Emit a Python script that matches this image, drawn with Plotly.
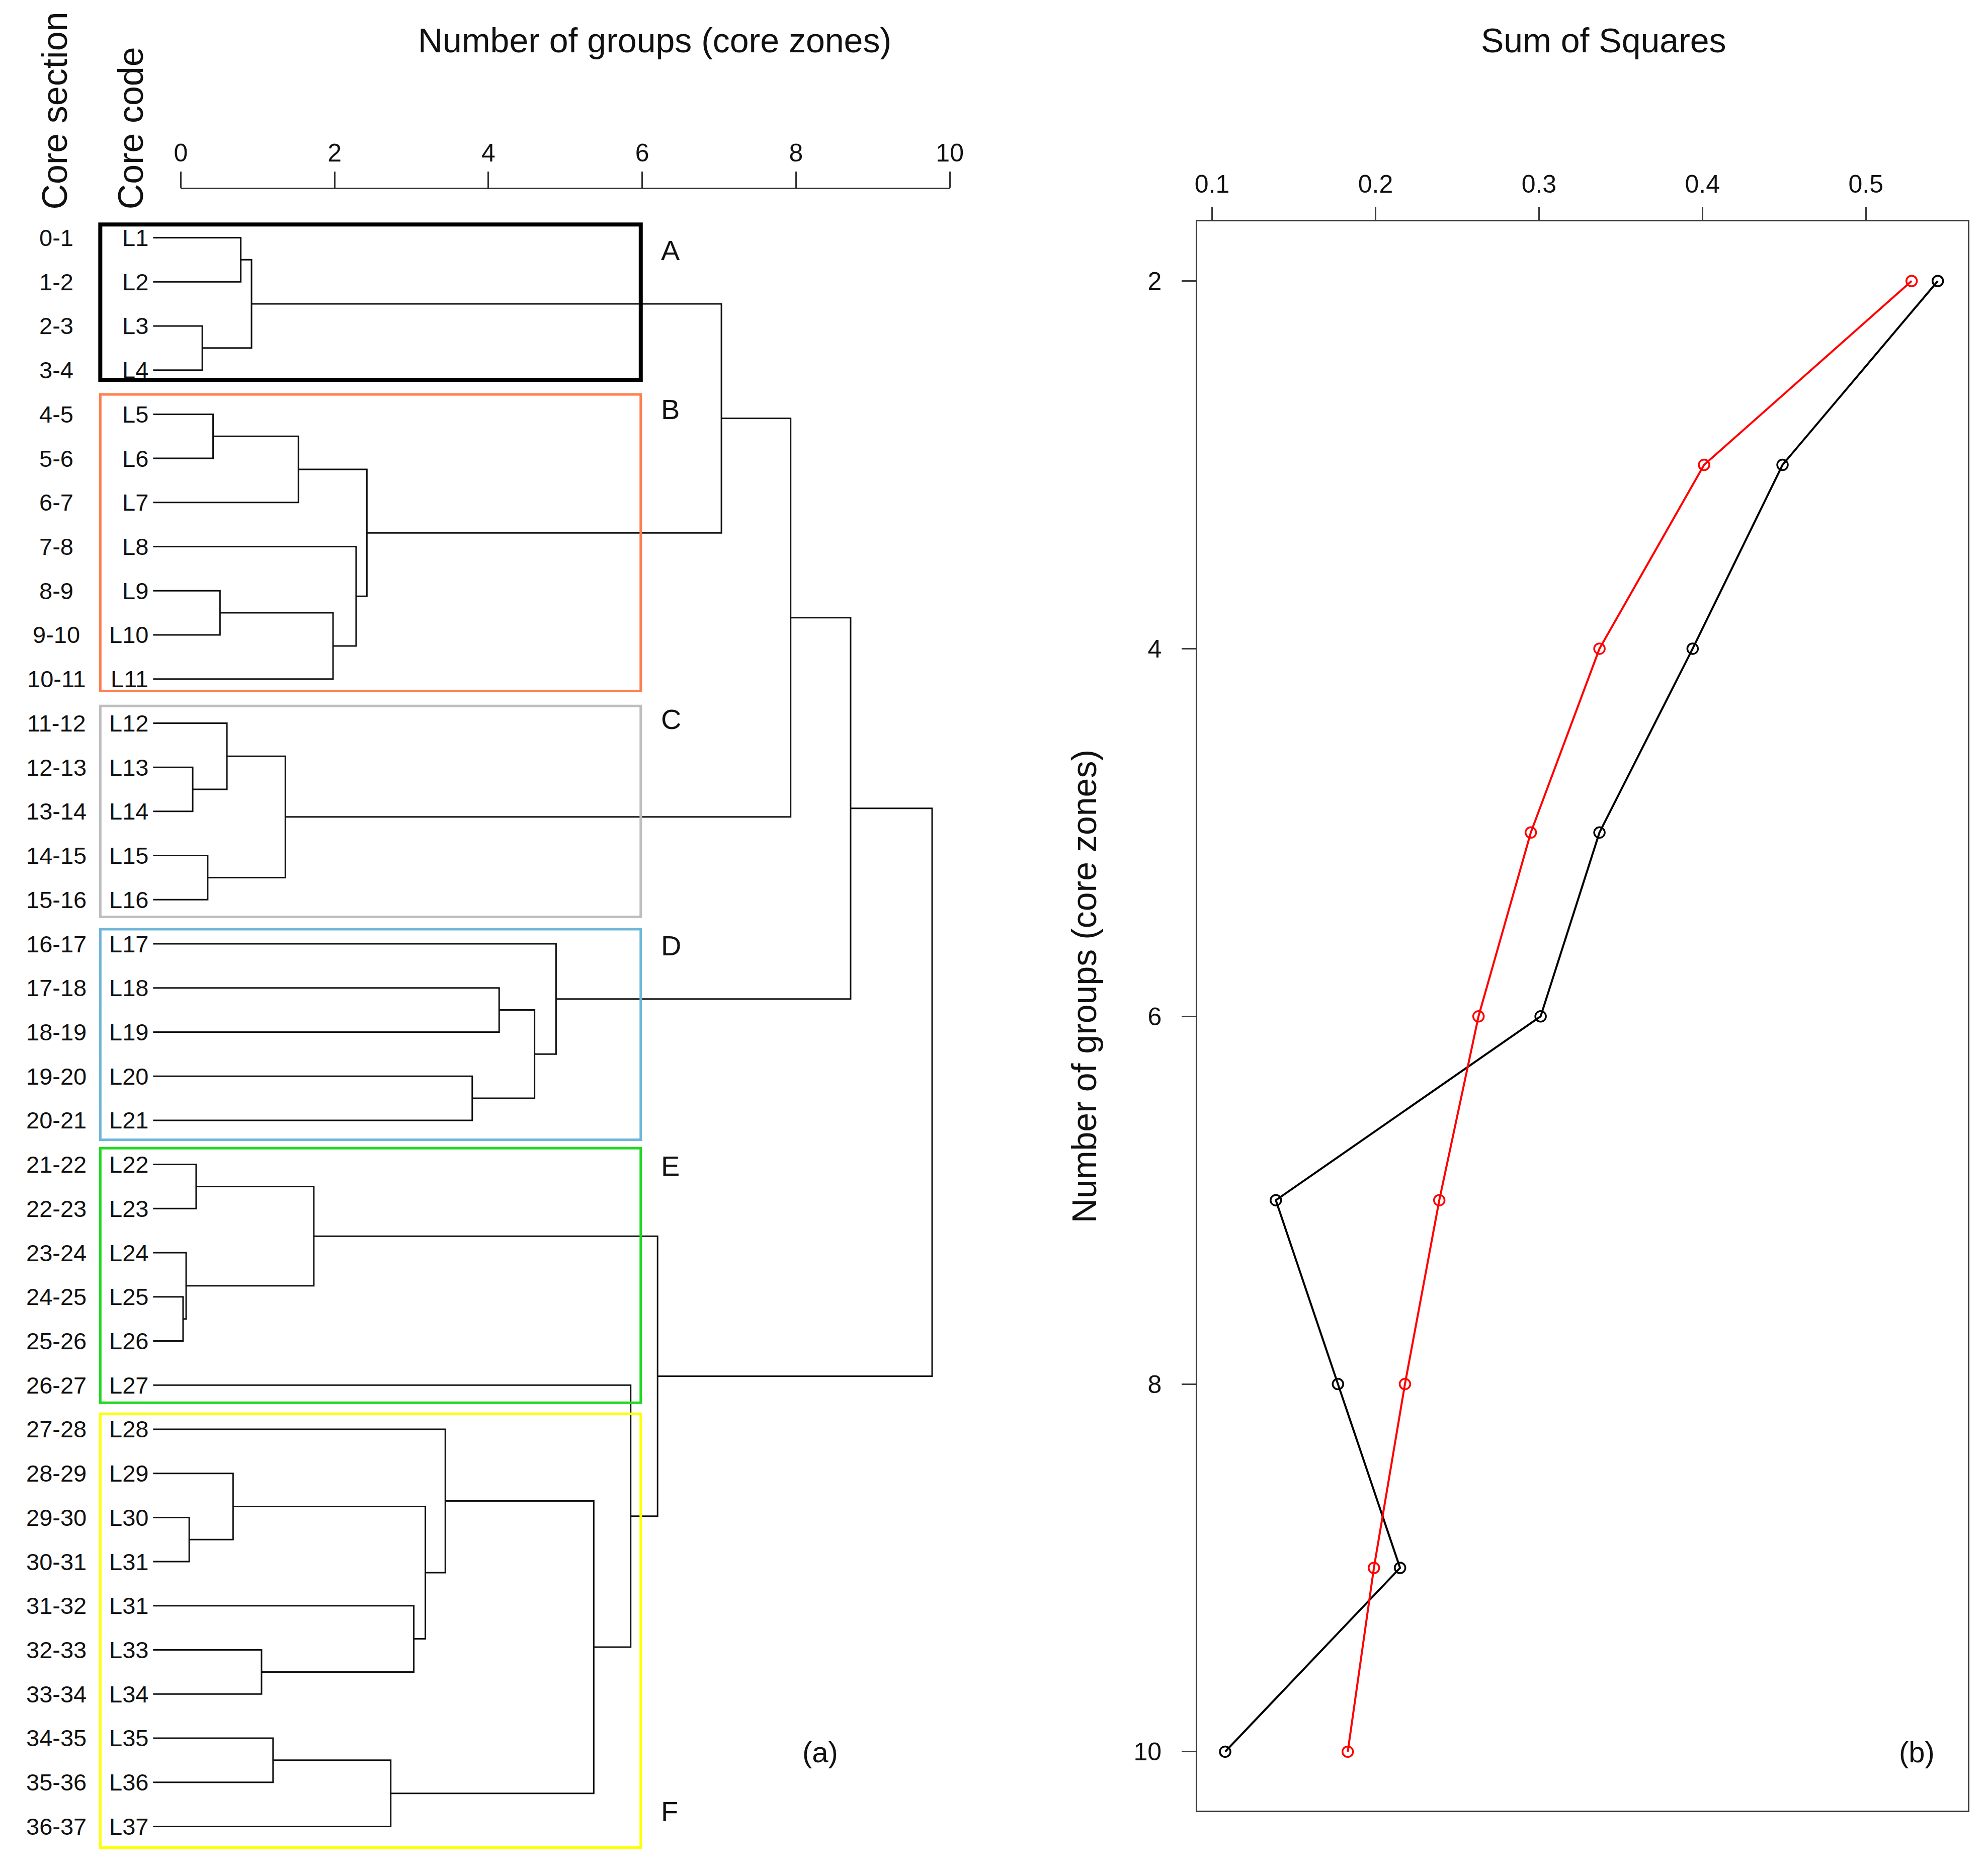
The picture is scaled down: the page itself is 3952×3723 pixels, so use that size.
import plotly.graph_objects as go

# ---- data -------------------------------------------------------------
core_sections = ["0-1", "1-2", "2-3", "3-4", "4-5", "5-6", "6-7", "7-8", "8-9",
                 "9-10", "10-11", "11-12", "12-13", "13-14", "14-15", "15-16",
                 "16-17", "17-18", "18-19", "19-20", "20-21", "21-22", "22-23",
                 "23-24", "24-25", "25-26", "26-27", "27-28", "28-29", "29-30",
                 "30-31", "31-32", "32-33", "33-34", "34-35", "35-36", "36-37"]
core_codes = ["L1", "L2", "L3", "L4", "L5", "L6", "L7", "L8", "L9", "L10", "L11",
              "L12", "L13", "L14", "L15", "L16", "L17", "L18", "L19", "L20",
              "L21", "L22", "L23", "L24", "L25", "L26", "L27", "L28", "L29",
              "L30", "L31", "L31", "L33", "L34", "L35", "L36", "L37"]

# hclust style merge table: negative = leaf number, positive = earlier step
merge_left = [-25, -24, -30, -13, -22, -3, -15, -5, -9, -12, -29, -1, 12, -33,
              -35, 10, 8, 5, 9, -8, 17, 15, -32, 11, -28, -20, -18, 27, -17,
              25, -27, 18, 13, 33, 34, 35]
merge_right = [-26, 1, -31, -14, -23, -4, -16, -6, -10, 4, 3, -2, 6, -34, -36,
               7, -7, 2, -11, 19, 20, -37, 14, 23, 24, -21, -19, 26, 28, 22,
               30, 31, 21, 16, 29, 32]
merge_height = [0.03, 0.07, 0.11, 0.155, 0.20, 0.28, 0.35, 0.42, 0.51, 0.60,
                0.68, 0.78, 0.92, 1.05, 1.20, 1.36, 1.53, 1.73, 1.98, 2.28,
                2.42, 2.73, 3.03, 3.18, 3.44, 3.79, 4.14, 4.60, 4.88, 5.37,
                5.85, 6.20, 7.03, 7.93, 8.71, 9.77]

zone_names = ["A", "B", "C", "D", "E", "F"]
zone_first = [1, 5, 12, 17, 22, 28]
zone_last = [4, 11, 16, 21, 27, 37]
zone_colors = ["#000000", "#FF7F50", "#BEBEBE", "#70B6D6", "#22D822", "#FFFF00"]

dendro_ticks = [0, 2, 4, 6, 8, 10]

n_groups = [2, 3, 4, 5, 6, 7, 8, 9, 10]
ss_black = [0.544, 0.449, 0.394, 0.337, 0.301, 0.139, 0.177, 0.215, 0.108]
ss_red = [0.528, 0.401, 0.337, 0.295, 0.263, 0.239, 0.218, 0.199, 0.183]
ss_ticks = [0.1, 0.2, 0.3, 0.4, 0.5]

# ---- geometry ---------------------------------------------------------
W, H = 3952, 3723
X0_PX, UNIT_PX = 356.25, 153.1      # dendrogram height 0 and px per unit
ROW1_PX, ROW_PX = 472.0, 87.72      # first leaf row and row spacing
LEAF_X = -0.36
# page offset / squeeze seen in the rendered output
DX, SX, DY = 18.4, 0.9908, 7.5
# box padding (rows) above first / below last leaf, and letter offsets
PAD_TOP = [0.30, 0.45, 0.39, 0.33, 0.37, 0.35]
PAD_BOTTOM = [0.22, 0.27, 0.39, 0.44, 0.40, 0.48]
LETTER_SHIFT = [0.29, -0.11, -0.09, 0.04, 0.03, -0.34]   # from first (last for F)
FONT = "Liberation Sans, Arial, sans-serif"
INK = "#111111"


def px_to_h(px):
    return (px - X0_PX) / UNIT_PX


def px_to_row(py):
    return 1 + (py - ROW1_PX) / ROW_PX


def paper_x(px):
    return (px - DX) / (SX * W)


def paper_y(py):
    return 1 - (py - DY) / H


# dendrogram segments
pos = []
seg_x, seg_y = [], []


def child(c):
    if c < 0:
        return LEAF_X, float(-c)
    return pos[c - 1]


for l, r, h in zip(merge_left, merge_right, merge_height):
    (hl, yl), (hr, yr) = child(l), child(r)
    seg_x += [hl, h, h, hr, None]
    seg_y += [yl, yl, yr, yr, None]
    pos.append((h, (yl + yr) / 2))

fig = go.Figure()

fig.add_trace(go.Scatter(
    x=seg_x, y=seg_y, mode="lines",
    line=dict(color=INK, width=3),
    hoverinfo="skip", showlegend=False, xaxis="x", yaxis="y"))

# invisible trace carrying the dendrogram height axis
fig.add_trace(go.Scatter(
    x=dendro_ticks, y=[None] * len(dendro_ticks), mode="markers",
    hoverinfo="skip", showlegend=False, xaxis="x3", yaxis="y"))

# sum of squares panel
fig.add_trace(go.Scatter(
    x=ss_black, y=n_groups, mode="lines+markers",
    line=dict(color="black", width=4),
    marker=dict(symbol="circle-open", size=21, color="black",
                line=dict(width=3.5)),
    showlegend=False, xaxis="x2", yaxis="y2"))
fig.add_trace(go.Scatter(
    x=ss_red, y=n_groups, mode="lines+markers",
    line=dict(color="#FF0000", width=4),
    marker=dict(symbol="circle-open", size=21, color="#FF0000",
                line=dict(width=3.5)),
    showlegend=False, xaxis="x2", yaxis="y2"))

# zone boxes
box_x0, box_x1 = px_to_h(196), px_to_h(1272)
for k, (name, first, last, col) in enumerate(
        zip(zone_names, zone_first, zone_last, zone_colors)):
    fig.add_shape(type="rect", xref="x", yref="y",
                  x0=box_x0, x1=box_x1,
                  y0=first - PAD_TOP[k], y1=last + PAD_BOTTOM[k],
                  line=dict(color=col, width=8 if col == "#000000" else 5))
    ly = (last if name == "F" else first) + LETTER_SHIFT[k]
    fig.add_annotation(x=px_to_h(1310), y=ly, xref="x", yref="y",
                       text=name, showarrow=False, xanchor="left",
                       yanchor="middle",
                       font=dict(family=FONT, size=56, color=INK))

# leaf labels
for i, (sec, code) in enumerate(zip(core_sections, core_codes), start=1):
    fig.add_annotation(x=px_to_h(109), y=i, xref="x", yref="y", text=sec,
                       showarrow=False, xanchor="center", yanchor="middle",
                       font=dict(family=FONT, size=47, color=INK))
    fig.add_annotation(x=px_to_h(294), y=i, xref="x", yref="y", text=code,
                       showarrow=False, xanchor="right", yanchor="middle",
                       font=dict(family=FONT, size=47, color=INK))

# titles and panel tags
txt = dict(showarrow=False, xref="paper", yref="paper", xanchor="center")
fig.add_annotation(x=paper_x(1300), y=paper_y(79), yanchor="middle",
                   text="Number of groups (core zones)",
                   font=dict(family=FONT, size=68, color=INK), **txt)
fig.add_annotation(x=paper_x(3189), y=paper_y(79), yanchor="middle",
                   text="Sum of Squares",
                   font=dict(family=FONT, size=68, color=INK), **txt)
fig.add_annotation(x=paper_x(2155), y=paper_y(1960), yanchor="middle",
                   text="Number of groups (core zones)", textangle=-90,
                   font=dict(family=FONT, size=68, color=INK), **txt)
fig.add_annotation(x=paper_x(106), y=paper_y(418), text="Core section",
                   textangle=-90, yanchor="bottom",
                   font=dict(family=FONT, size=70, color=INK), **txt)
fig.add_annotation(x=paper_x(257), y=paper_y(418), text="Core code",
                   textangle=-90, yanchor="bottom",
                   font=dict(family=FONT, size=70, color=INK), **txt)
fig.add_annotation(x=paper_x(1629), y=paper_y(3482), yanchor="middle",
                   text="(a)", font=dict(family=FONT, size=58, color=INK), **txt)
fig.add_annotation(x=paper_x(3812), y=paper_y(3482), yanchor="middle",
                   text="(b)", font=dict(family=FONT, size=58, color=INK), **txt)

tickfont = dict(family=FONT, size=50, color=INK)
fig.update_layout(
    width=W, height=H,
    margin=dict(l=0, r=0, t=0, b=0),
    paper_bgcolor="white", plot_bgcolor="rgba(0,0,0,0)",
    xaxis=dict(domain=[0, 0.5],
               range=[px_to_h(DX), px_to_h(DX + SX * W * 0.5)],
               visible=False),
    yaxis=dict(domain=[0, 1],
               range=[px_to_row(DY + H), px_to_row(DY)],
               visible=False),
    xaxis3=dict(domain=[paper_x(X0_PX), paper_x(X0_PX + 10 * UNIT_PX)],
                range=[0, 10],
                anchor="free", position=paper_y(373.5), side="top",
                showline=True, linecolor="#333333", linewidth=3,
                ticks="outside", ticklen=32, tickwidth=3, tickcolor="#333333",
                tickvals=dendro_ticks, tickfont=tickfont,
                showgrid=False, zeroline=False),
    xaxis2=dict(domain=[paper_x(2380), paper_x(3914)], range=[0.09097, 0.5624],
                anchor="y2", side="top", mirror=True,
                showline=True, linecolor="#3a3a3a", linewidth=3,
                ticks="outside", ticklen=26, tickwidth=3, tickcolor="#3a3a3a",
                tickvals=ss_ticks, tickfont=tickfont, ticklabelstandoff=8,
                showgrid=False, zeroline=False),
    yaxis2=dict(domain=[paper_y(3598), paper_y(439)], range=[10.319, 1.674],
                anchor="x2", mirror=True,
                showline=True, linecolor="#3a3a3a", linewidth=3,
                ticks="outside", ticklen=28, tickwidth=3, tickcolor="#3a3a3a",
                tickvals=n_groups[::2], tickfont=tickfont, ticklabelstandoff=30,
                showgrid=False, zeroline=False),
)

fig.write_html("out.html")
